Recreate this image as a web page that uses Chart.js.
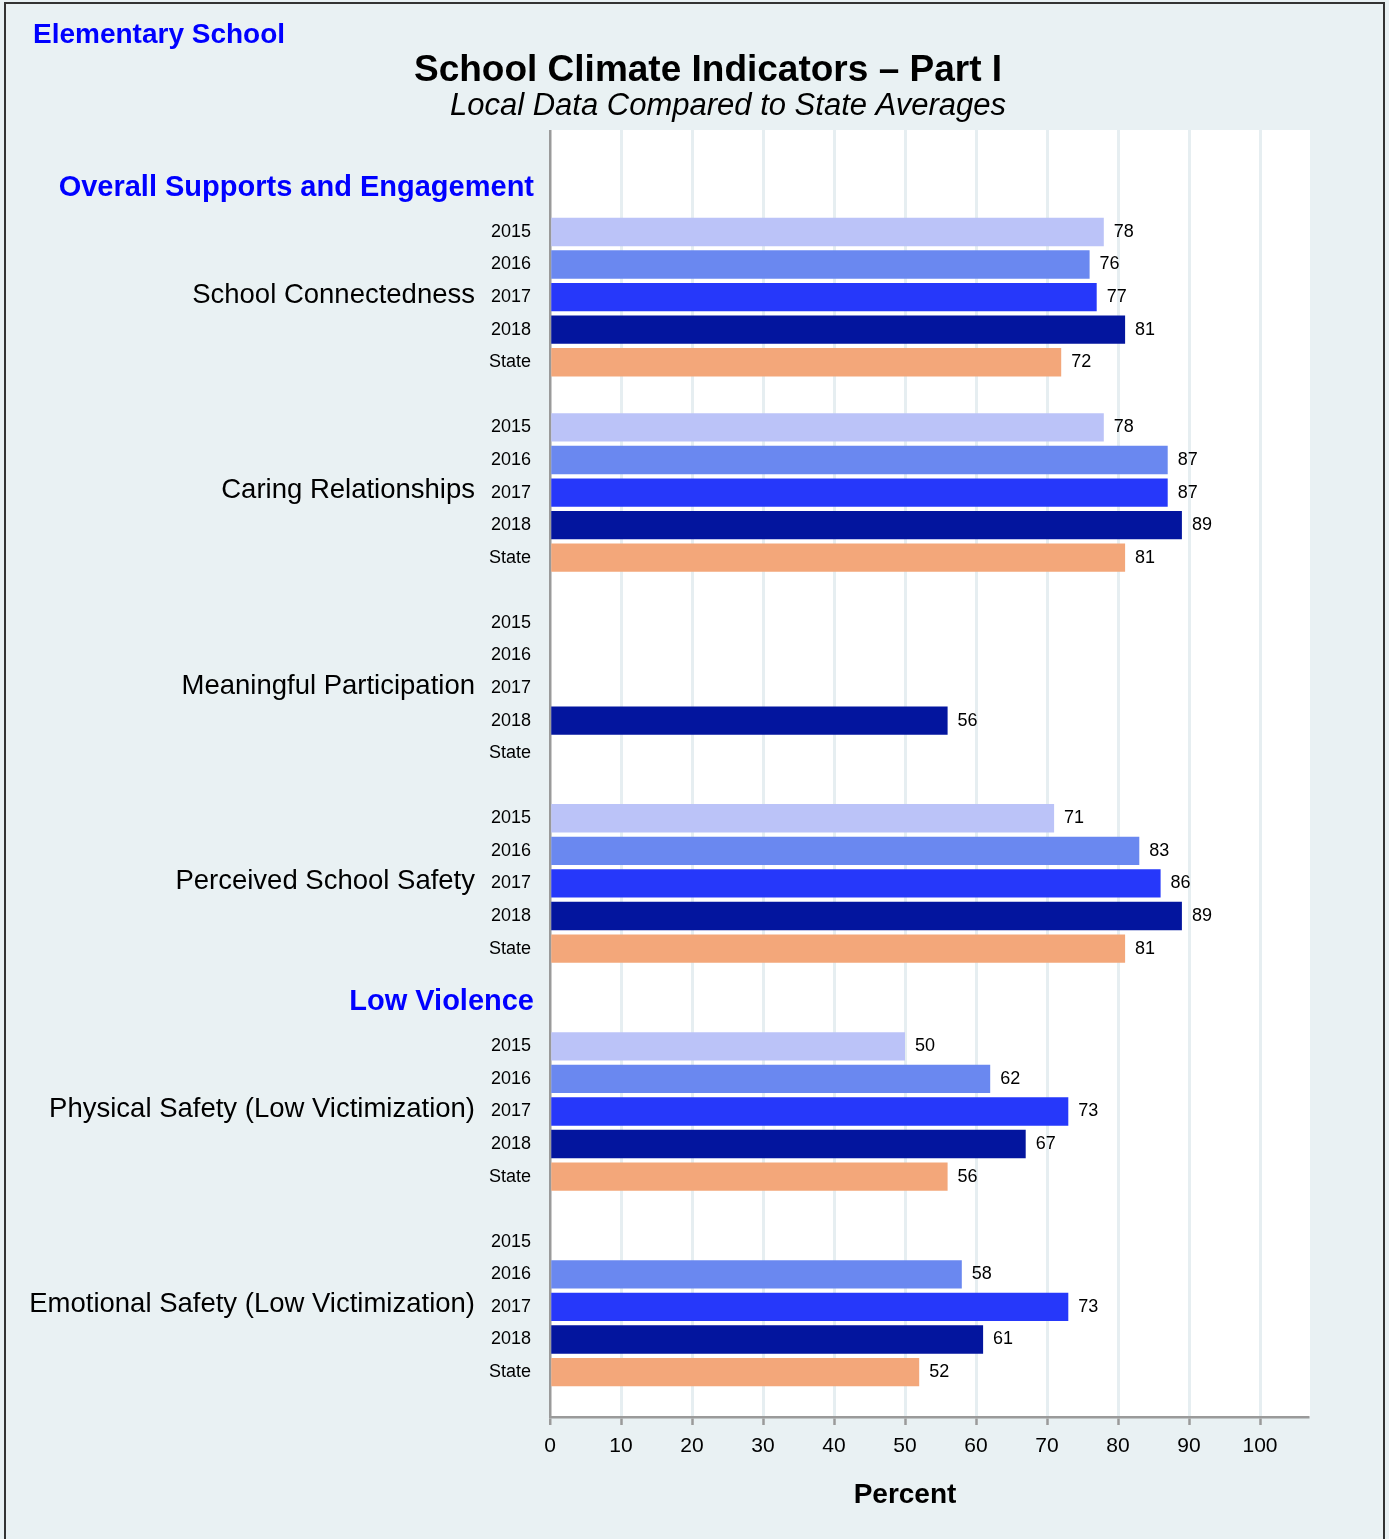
<!DOCTYPE html>
<html>
<head>
<meta charset="utf-8">
<title>School Climate Indicators – Part I</title>
<script src="https://cdn.jsdelivr.net/npm/chart.js@4.4.1/dist/chart.umd.min.js"></script>
<style>
  html, body { margin: 0; padding: 0; background: #e9f1f3; }
  #wrap { width: 1389px; height: 1539px; position: relative; }
</style>
</head>
<body>
<div id="wrap"><canvas id="mychart"></canvas></div>
<script>
// ---- data ----
var groups = [
  'School Connectedness',
  'Caring Relationships',
  'Meaningful Participation',
  'Perceived School Safety',
  'Physical Safety (Low Victimization)',
  'Emotional Safety (Low Victimization)'
];
var sections = ['Overall Supports and Engagement', 'Low Violence'];
var sectionOfGroup = [0, 0, 0, 0, 1, 1];
var seriesNames = ['2015', '2016', '2017', '2018', 'State'];

var v2015  = [78, 78, null, 71, 50, null];
var v2016  = [76, 87, null, 83, 62, 58];
var v2017  = [77, 87, null, 86, 73, 73];
var v2018  = [81, 89, 56, 89, 67, 61];
var vState = [72, 81, null, 81, 56, 52];

var xTicks = [0, 10, 20, 30, 40, 50, 60, 70, 80, 90, 100];

var seriesColors = ['#bbc3f8', '#6a88f0', '#2638fa', '#03159e', '#f3a77a'];
var FONT = '"Liberation Sans", Arial, sans-serif';

// row position of a bar: 5 rows per group, a blank row between groups,
// one more row where a section heading starts
function rowOf(g, s) {
  return g * 6 + sectionOfGroup[g] + s;
}

var allSeries = [v2015, v2016, v2017, v2018, vState];
var datasets = allSeries.map(function(vals, s) {
  var pts = [];
  vals.forEach(function(v, g) {
    if (v !== null) pts.push({ x: v, y: rowOf(g, s) });
  });
  return {
    label: seriesNames[s],
    backgroundColor: seriesColors[s],
    data: pts,
    grouped: false,
    categoryPercentage: 1,
    barPercentage: 0.87
  };
});

var decor = {
  id: 'decor',
  beforeDraw: function(chart) {
    var c = chart.ctx, a = chart.chartArea;
    c.save();
    c.fillStyle = '#e9f1f3';
    c.fillRect(0, 0, chart.width, chart.height);
    c.fillStyle = '#ffffff';
    c.fillRect(a.left, a.top, a.right - a.left + 2, a.bottom - a.top);
    c.strokeStyle = '#333';
    c.lineWidth = 2;
    c.beginPath();
    c.moveTo(5, chart.height); c.lineTo(5, 3); c.lineTo(1384, 3); c.lineTo(1384, chart.height);
    c.stroke();
    c.restore();
  },
  afterDraw: function(chart) {
    var c = chart.ctx, y = chart.scales.y, a = chart.chartArea;
    c.save();
    c.textBaseline = 'middle';

    // titles
    c.fillStyle = '#0000ff';
    c.font = 'bold 28px ' + FONT;
    c.textAlign = 'left';
    c.fillText('Elementary School', 33, 35);
    c.fillStyle = '#000';
    c.textAlign = 'center';
    c.font = 'bold 37px ' + FONT;
    c.fillText('School Climate Indicators – Part I', 708, 71);
    c.font = 'italic 31px ' + FONT;
    c.fillText('Local Data Compared to State Averages', 728, 106);
    c.font = 'bold 28px ' + FONT;
    c.fillText('Percent', (a.left + chart.scales.x.getPixelForValue(100)) / 2, 1495);

    // section headings
    c.fillStyle = '#0000ff';
    c.textAlign = 'right';
    c.font = 'bold 29px ' + FONT;
    sections.forEach(function(name, si) {
      var first = sectionOfGroup.indexOf(si);
      c.fillText(name, 534, y.getPixelForValue(rowOf(first, 0) - 1.35));
    });

    // group names and row labels
    c.fillStyle = '#000';
    groups.forEach(function(name, g) {
      c.font = '27.5px ' + FONT;
      c.fillText(name, 475, y.getPixelForValue(rowOf(g, 2)) - 2);
      c.font = '18px ' + FONT;
      seriesNames.forEach(function(sn, s) {
        c.fillText(sn, 531, y.getPixelForValue(rowOf(g, s)));
      });
    });

    // value labels
    c.textAlign = 'left';
    c.font = '18px ' + FONT;
    chart.data.datasets.forEach(function(ds, i) {
      chart.getDatasetMeta(i).data.forEach(function(el, j) {
        c.fillText(String(ds.data[j].x), el.x + 10, el.y);
      });
    });
    c.restore();
  }
};

var context = document.getElementById('mychart').getContext('2d');
var chart = new Chart(context, {
  type: 'bar',
  data: { datasets: datasets },
  plugins: [decor],
  options: {
    indexAxis: 'y',
    responsive: true,
    maintainAspectRatio: false,
    animation: false,
    layout: { padding: { left: 550, right: 81, top: 130, bottom: 82 } },
    plugins: { legend: { display: false }, tooltip: { enabled: false } },
    scales: {
      y: {
        type: 'linear',
        reverse: true,
        offset: false,
        min: -3.13,
        max: 36.38,
        display: false
      },
      x: {
        type: 'linear',
        min: 0,
        max: 106.76,
        afterBuildTicks: function(s) { s.ticks = xTicks.map(function(v) { return { value: v }; }); },
        afterFit: function(s) { s.height = 40; },
        border: { color: '#9a9a9a', width: 2.5 },
        grid: {
          color: function(ctx) { return ctx.tick && ctx.tick.value === 0 ? '#9a9a9a' : '#e6eef1'; },
          lineWidth: function(ctx) { return ctx.tick && ctx.tick.value === 0 ? 2.5 : 3; },
          tickColor: '#9a9a9a',
          tickWidth: 2.5,
          tickLength: 8
        },
        ticks: { color: '#000', font: { family: FONT, size: 21 }, padding: 9 }
      }
    }
  }
});
</script>
</body>
</html>
